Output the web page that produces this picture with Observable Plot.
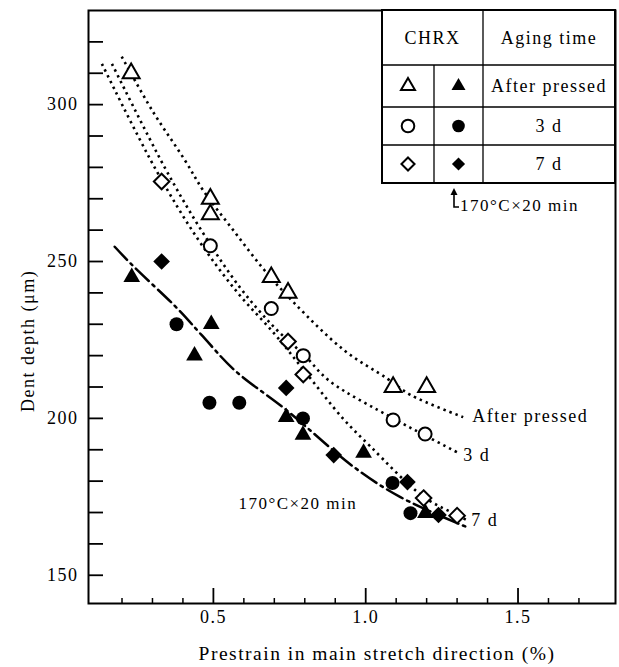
<!DOCTYPE html>
<html><head><meta charset="utf-8">
<script src="https://cdn.jsdelivr.net/npm/d3@7"></script>
<script src="https://cdn.jsdelivr.net/npm/@observablehq/plot@0.6"></script>
<style>
html,body{margin:0;padding:0;background:#fff;}
#wrap{position:relative;width:619px;height:667px;}
svg text{letter-spacing:1.5px;}
</style></head><body><div id="wrap"></div>
<script>
// ---- data (prestrain %, dent depth µm) ----
const openTriangle = [[0.23,310],[0.49,270],[0.49,265],[0.69,245],[0.745,240],[1.09,210],[1.20,210]];
const openCircle = [[0.49,255],[0.69,235],[0.795,220],[1.09,199.5],[1.195,195]];
const openDiamond = [[0.33,275.5],[0.745,224.5],[0.795,214],[1.19,174.6],[1.30,169]];
const filledTriangle = [[0.232,245],[0.438,220],[0.493,230],[0.739,200.4],[0.794,194.7],[0.993,189],[1.196,169.8]];
const filledCircle = [[0.379,230],[0.487,205],[0.585,205],[0.794,200],[1.088,179.4],[1.147,169.8]];
const filledDiamond = [[0.33,250],[0.739,209.7],[0.895,188.3],[1.137,179.7],[1.239,169.2]];

const curveAfter = [[0.199,315.3],[0.30,298],[0.405,282.5],[0.471,272],[0.565,260],[0.667,247.3],[0.765,236.8],[0.928,221.8],[1.072,212.6],[1.147,207.5],[1.32,200.4]];
const curve3d = [[0.167,313],[0.34,280],[0.46,260],[0.585,242],[0.70,229],[0.80,220],[0.88,212],[1.09,200],[1.196,194.5],[1.304,189]];
const curve7d = [[0.134,313],[0.307,280],[0.45,257],[0.58,240],[0.70,227],[0.80,215],[0.925,200],[1.016,191],[1.19,175],[1.304,169],[1.333,167.5]];
const curveAged = [[0.176,254.7],[0.232,249],[0.386,234.6],[0.461,226.6],[0.569,215.4],[0.739,202.7],[0.961,184.5],[1.114,174.9],[1.333,165.3]];
const curveLabels = ["After pressed","3 d","7 d"];
const agedLabel = "170°C×20 min";

const xLabels = [0.5,1.0,1.5];
const xMinor = [0.2,0.3,0.4,0.6,0.7,0.8,0.9,1.1,1.2,1.3,1.4,1.6,1.7];
const yLabels = [150,200,250,300];
const yTicks = [150,160,170,180,190,200,210,220,230,240,250,260,270,280,290,300,310,320];

const xTitle = "Prestrain in main stretch direction (%)";
const yTitle = "Dent depth (μm)";
const legendHead = ["CHRX","Aging time"];
const legendRows = ["After pressed","3 d","7 d"];
const legendNote = "170°C×20 min";

// ---- layout ----
const W = 619, H = 667, mL = 88, mR = 4, mT = 10, mB = 64;
const innerW = W - mL - mR, innerH = H - mT - mB;
const X = d => d[0], Y = d => d[1];
const dotted = {stroke:"black", strokeWidth:2.6, strokeDasharray:"2.4,4", curve:"catmull-rom", strokeLinecap:"butt"};

const chart = Plot.plot({
  width: W, height: H,
  marginLeft: mL, marginRight: mR, marginTop: mT, marginBottom: mB,
  style: {fontFamily: "'Liberation Serif', serif", fontSize: "18px", background: "white", color: "black"},
  x: {domain: [0.09, 1.82]},
  y: {domain: [141, 330]},
  marks: [
    Plot.frame({stroke: "black", strokeWidth: 2}),
    Plot.tickX(xMinor, {x: d => d, insetTop: innerH - 5, strokeWidth: 1.5}),
    Plot.tickX(xLabels, {x: d => d, insetTop: innerH - 15, strokeWidth: 1.8}),
    Plot.tickY(yTicks, {y: d => d, insetRight: innerW - 15, strokeWidth: 1.8}),
    Plot.axisX({ticks: xLabels, tickFormat: d => d.toFixed(1), tickSize: 0, tickPadding: 7, label: null, fontSize: 18}),
    Plot.axisY({ticks: yLabels, tickSize: 0, tickPadding: 10, label: null, fontSize: 18}),
    Plot.text([xTitle], {frameAnchor: "bottom", textAnchor: "middle", lineAnchor: "middle", dx: 25, dy: 50, fontSize: 19.5, text: d => d}),
    Plot.text([yTitle], {frameAnchor: "left", textAnchor: "middle", lineAnchor: "middle", y: () => 224.7, dx: -60, rotate: -90, fontSize: 18, text: d => d}),
    Plot.line(curveAfter, {x: X, y: Y, ...dotted}),
    Plot.line(curve3d, {x: X, y: Y, ...dotted}),
    Plot.line(curve7d, {x: X, y: Y, ...dotted}),
    Plot.line(curveAged, {x: X, y: Y, stroke: "black", strokeWidth: 2.5, strokeDasharray: "18,5,2.5,5", curve: "catmull-rom"}),
    Plot.text([curveAfter.at(-1)], {x: X, y: Y, text: () => curveLabels[0], textAnchor: "start", dx: 9, dy: -1, fontSize: 18}),
    Plot.text([curve3d.at(-1)], {x: X, y: Y, text: () => curveLabels[1], textAnchor: "start", dx: 5, dy: 2, fontSize: 18}),
    Plot.text([curve7d.at(-1)], {x: X, y: Y, text: () => curveLabels[2], textAnchor: "start", dx: 4, dy: 0, fontSize: 18}),
    Plot.text([agedLabel], {x: () => 0.582, y: () => 173, text: d => d, textAnchor: "start", fontSize: 17}),
    Plot.dot(openTriangle, {x: X, y: Y, symbol: "triangle", r: 6.3, fill: "white", stroke: "black", strokeWidth: 2}),
    Plot.dot(openCircle, {x: X, y: Y, symbol: "circle", r: 6.5, fill: "white", stroke: "black", strokeWidth: 2}),
    Plot.dot(openDiamond, {x: X, y: Y, symbol: "diamond2", r: 7, fill: "white", stroke: "black", strokeWidth: 2}),
    Plot.dot(filledTriangle, {x: X, y: Y, symbol: "triangle", r: 6.2, fill: "black", stroke: "none"}),
    Plot.dot(filledCircle, {x: X, y: Y, symbol: "circle", r: 7, fill: "black", stroke: "none"}),
    Plot.dot(filledDiamond, {x: X, y: Y, symbol: "diamond2", r: 7.5, fill: "black", stroke: "none"})
  ]
});
document.getElementById("wrap").appendChild(chart);

// ---- legend table (drawn into the same SVG) ----
const svg = d3.select(chart);
const g = svg.append("g").attr("font-family", "'Liberation Serif', serif").attr("font-size", 18).attr("text-anchor", "middle");
const tx0 = 382, tx1 = 434, tx2 = 483, tx3 = 615;
const rowY = [10, 65, 107, 145, 183];
g.append("rect").attr("x", tx0).attr("y", rowY[0]).attr("width", tx3 - tx0).attr("height", rowY[4] - rowY[0])
  .attr("fill", "white").attr("stroke", "black").attr("stroke-width", 2);
rowY.slice(1, 4).forEach(y => g.append("line").attr("x1", tx0).attr("x2", tx3).attr("y1", y).attr("y2", y).attr("stroke", "black").attr("stroke-width", 1.3));
g.append("line").attr("x1", tx2).attr("x2", tx2).attr("y1", rowY[0]).attr("y2", rowY[4]).attr("stroke", "black").attr("stroke-width", 1.3);
g.append("line").attr("x1", tx1).attr("x2", tx1).attr("y1", rowY[1]).attr("y2", rowY[4]).attr("stroke", "black").attr("stroke-width", 1.3);
g.append("text").attr("x", (tx0 + tx2) / 2).attr("y", (rowY[0] + rowY[1]) / 2).attr("dy", "0.35em").text(legendHead[0]);
g.append("text").attr("x", (tx2 + tx3) / 2).attr("y", (rowY[0] + rowY[1]) / 2).attr("dy", "0.35em").text(legendHead[1]);
const legSyms = [d3.symbolTriangle, d3.symbolCircle, d3.symbolDiamond2];
const legSizes = [85, 125, 110];
legendRows.forEach((label, i) => {
  const cy = (rowY[i + 1] + rowY[i + 2]) / 2;
  const path = d3.symbol(legSyms[i], legSizes[i])();
  g.append("path").attr("d", path).attr("transform", `translate(${(tx0 + tx1) / 2},${cy})`)
    .attr("fill", "white").attr("stroke", "black").attr("stroke-width", 2);
  g.append("path").attr("d", path).attr("transform", `translate(${(tx1 + tx2) / 2},${cy})`).attr("fill", "black");
  g.append("text").attr("x", (tx2 + tx3) / 2).attr("y", cy).attr("dy", "0.35em").text(label);
});
// note arrow under the filled column
const ax = 454;
g.append("path").attr("d", `M${ax + 5},207 H${ax} V194`).attr("fill", "none").attr("stroke", "black").attr("stroke-width", 1.6);
g.append("path").attr("d", `M${ax},188 L${ax - 3.5},195 L${ax + 3.5},195 Z`).attr("fill", "black");
g.append("text").attr("x", ax + 6).attr("y", 207).attr("dy", "0.25em").attr("text-anchor", "start").attr("font-size", 17).text(legendNote);
</script></body></html>
